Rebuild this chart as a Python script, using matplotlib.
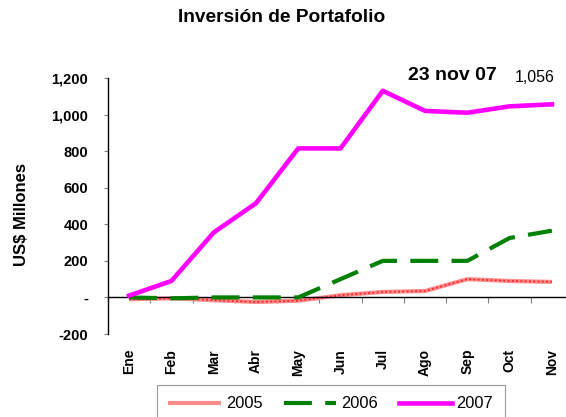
import matplotlib
matplotlib.use("Agg")
import matplotlib.pyplot as plt
import matplotlib.transforms as mtransforms

plt.rcParams['font.family'] = ['Liberation Sans', 'DejaVu Sans']

months = ["Ene", "Feb", "Mar", "Abr", "May", "Jun", "Jul", "Ago", "Sep", "Oct", "Nov"]
y2005 = [-10, -5, -15, -25, -18, 12, 30, 35, 100, 90, 85]
y2006 = [0, -5, 0, 0, 0, 100, 200, 200, 200, 325, 365]
y2007 = [10, 90, 355, 515, 815, 815, 1130, 1020, 1010, 1045, 1056]
yticks = [-200, 0, 200, 400, 600, 800, 1000, 1200]
ytick_labels = ["-200", "-", "200", "400", "600", "800", "1,000", "1,200"]

W, H = 566, 417
fig = plt.figure(figsize=(W / 100, H / 100), dpi=100)
left, right, top, bottom = 108, 573, 78, 334
ax = fig.add_axes([left / W, 1 - bottom / H, (right - left) / W, (bottom - top) / H])

x = list(range(len(months)))
l05a, = ax.plot(x, y2005, color='#ff8c8c', lw=3.0, solid_capstyle='butt', zorder=2)
ax.plot(x, y2005, color='#ff2a2a', lw=1.4, ls=(0, (1, 1.2)), zorder=2.1)
l06, = ax.plot(x, y2006, color='#008000', lw=3.0, dashes=(6.7, 3.2), zorder=3)
l07, = ax.plot(x, y2007, color='#ff00ff', lw=3.3, zorder=4)

ax.set_xlim(-0.5, len(months) - 0.5)
ax.set_ylim(-200, 1200)
ax.set_yticks(yticks)
ax.set_yticklabels(ytick_labels, fontsize=10.5, fontweight='bold')
ax.tick_params(axis='y', length=3, width=0.8, color='#808080', pad=11.4, direction='out')

ax.spines['top'].set_visible(False)
ax.spines['right'].set_visible(False)
ax.spines['bottom'].set_position(('data', 0))
ax.spines['left'].set_linewidth(1.0)
ax.spines['bottom'].set_linewidth(1.0)

ax.set_xticks([i + 0.5 for i in range(len(months) - 1)] + [-0.5])
ax.set_xticklabels([])
ax.tick_params(axis='x', length=4, width=0.8, color='#808080', direction='out')

trans = mtransforms.blended_transform_factory(ax.transData, fig.transFigure)
for i, m in enumerate(months):
    ax.text(i, 1 - 349 / H, m, rotation=90, ha='center', va='top', fontsize=10,
            fontweight='bold', transform=trans)

fig.text(22 / W, 1 - 215 / H, "US$ Millones", rotation=90, ha='center', va='center',
         fontsize=12, fontweight='bold')

fig.text(282 / W, 1 - 17 / H, "Inversión de Portafolio", ha='center', va='center',
         fontsize=13.8, fontweight='bold')

fig.text(452 / W, 1 - 76 / H, "23 nov 07", ha='center', va='center', fontsize=14,
         fontweight='bold')
fig.text(535 / W, 1 - 77 / H, "1,056", ha='center', va='center', fontsize=11.5)

leg = fig.legend([l05a, l06, l07], ["2005", "2006", "2007"], ncol=3,
                 loc='upper left', bbox_to_anchor=(157 / W, 1 - 385 / H),
                 frameon=True, fancybox=False, fontsize=11.8, handlelength=3.2,
                 handletextpad=0.3, columnspacing=1.3, borderpad=0.7,
                 borderaxespad=0)
leg.get_frame().set_edgecolor('#808080')
leg.get_frame().set_linewidth(0.8)

fig.savefig("out.png", dpi=100)
